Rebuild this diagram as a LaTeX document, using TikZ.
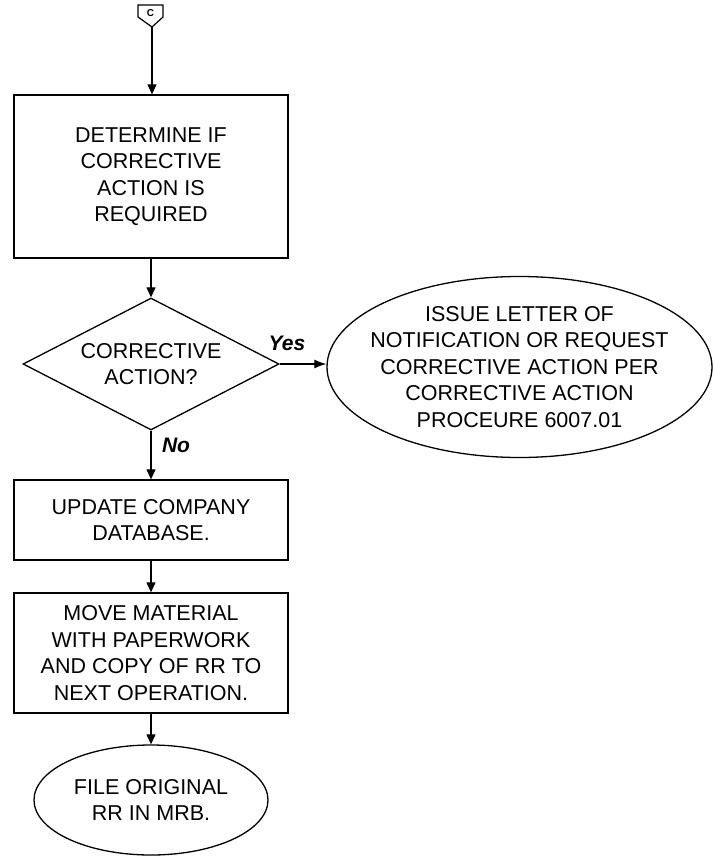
\documentclass[tikz,border=0pt]{standalone}
\usepackage{fontspec}
\setmainfont{Liberation Sans}
\usetikzlibrary{shapes.geometric,arrows.meta}
\begin{document}
\begin{tikzpicture}[x=1pt,y=-1pt,
  txt/.style={font=\fontsize{21.5}{26.5}\selectfont, align=center},
  proc/.style={txt, draw, line width=1.3pt, minimum width=274pt, inner sep=0pt},
  decis/.style={txt, draw, diamond, aspect=1.94, line width=1.3pt, minimum width=256pt, minimum height=132pt, inner sep=0pt},
  term/.style={txt, draw, ellipse, line width=1.3pt},
  downarr/.style={line width=1.2pt, -{Triangle[length=10pt,width=9pt]}},
  sidearr/.style={line width=1.2pt, -{Latex[length=12pt,width=9pt]}},
  lbl/.style={font=\fontsize{21}{24}\selectfont\bfseries\itshape, inner sep=0pt}
]
\fill[white] (0,0) rectangle (713,858);
\useasboundingbox (0,0) rectangle (713,858);

% off-page connector
\draw[line width=1.2pt] (138,5) -- (163,5) -- (163,17) -- (152,27) -- (138,17) -- cycle;
\node[font=\fontsize{10}{11}\selectfont\bfseries, inner sep=0pt] (clabel) at (150.5,13) {C};
\coordinate (ctip) at (152,27);

\node[proc, minimum height=163pt] (box1) at (151,176.5)
  {DETERMINE IF\\CORRECTIVE\\ACTION IS\\REQUIRED};
\node[decis] (dec) at (151,364) {CORRECTIVE\\ACTION?};
\node[term, minimum width=385pt, minimum height=181pt, inner xsep=-20pt, inner ysep=-2pt] (issue) at (519.5,367)
  {ISSUE LETTER OF\\NOTIFICATION OR REQUEST\\CORRECTIVE ACTION PER\\CORRECTIVE ACTION\\PROCEURE 6007.01};
\node[proc, minimum height=80pt] (box2) at (151,520) {UPDATE COMPANY\\DATABASE.};
\node[proc, minimum height=120pt] (box3) at (151,653)
  {MOVE MATERIAL\\WITH PAPERWORK\\AND COPY OF RR TO\\NEXT OPERATION.};
\node[term, minimum width=234pt, minimum height=110pt, inner sep=0pt] (file) at (151,800)
  {FILE ORIGINAL\\RR IN MRB.};

\node[lbl] (yes) at (287,343) {Yes};
\node[lbl] (no) at (176,445) {No};

\draw[downarr] (ctip) -- (ctip |- box1.north);
\draw[downarr] (box1) -- (dec);
\draw[sidearr] (dec.east) -- (dec.east -| issue.west);
\draw[downarr] (dec) -- (box2);
\draw[downarr] (box2) -- (box3);
\draw[downarr] (box3) -- (file);
\end{tikzpicture}
\end{document}
